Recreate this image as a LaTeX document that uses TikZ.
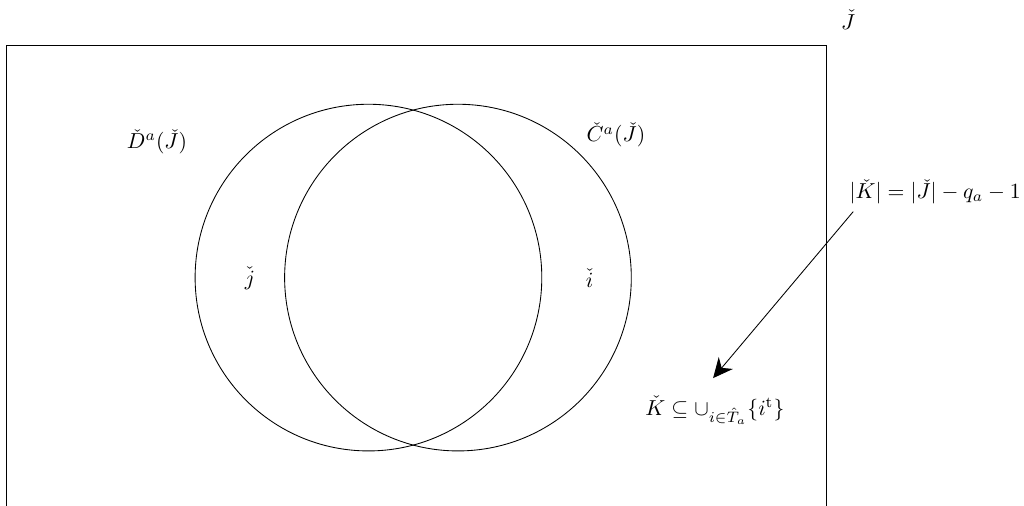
\documentclass[tikz,border=0pt]{standalone}
\usepackage{amsmath,amssymb}
\usepackage{tikz}
\usetikzlibrary{positioning,arrows.meta,calc}

\begin{document}
\begin{tikzpicture}[
  setcirc/.style={draw, circle, minimum size=5.62cm, inner sep=0pt},
  lbl/.style={inner sep=1pt},
  arr/.style={-{Stealth[length=3.2mm, width=3mm]}}
]
\useasboundingbox (0,0) rectangle (16.6,-8.2);
% universe
\draw (0.097,-0.73) rectangle (13.39,-8.215);
\node[lbl] (setJ) at (13.75,-0.32) {$\check{J}$};
% the two sets
\node[setcirc] (dset) at (5.973,-4.50) {};
\node[setcirc] (cset) at (7.424,-4.50) {};
\node[lbl] (dlabel) at (2.545,-2.30) {$\check{D}^a(\check{J})$};
\node[lbl] (clabel) at (9.985,-2.19) {$\check{C}^a(\check{J})$};
\node[lbl] (jnode) at (4.05,-4.51) {$\check{j}$};
\node[lbl] (inode) at (9.56,-4.51) {$\check{i}$};
% size of K
\node[lbl] (ksize) at (15.16,-3.11) {$|\check{K}| = |\check{J}| - q_a - 1$};
\node[lbl] (kset) at (11.59,-6.65) {$\check{K} \subseteq \cup_{i\in\hat{T}_a}\{i^{\mathrm{t}}\}$};
\draw[arr] ($(ksize.south west)+(0.1,-0.08)$) -- ($(kset.north)+(-0.03,0.25)$);
\end{tikzpicture}
\end{document}
